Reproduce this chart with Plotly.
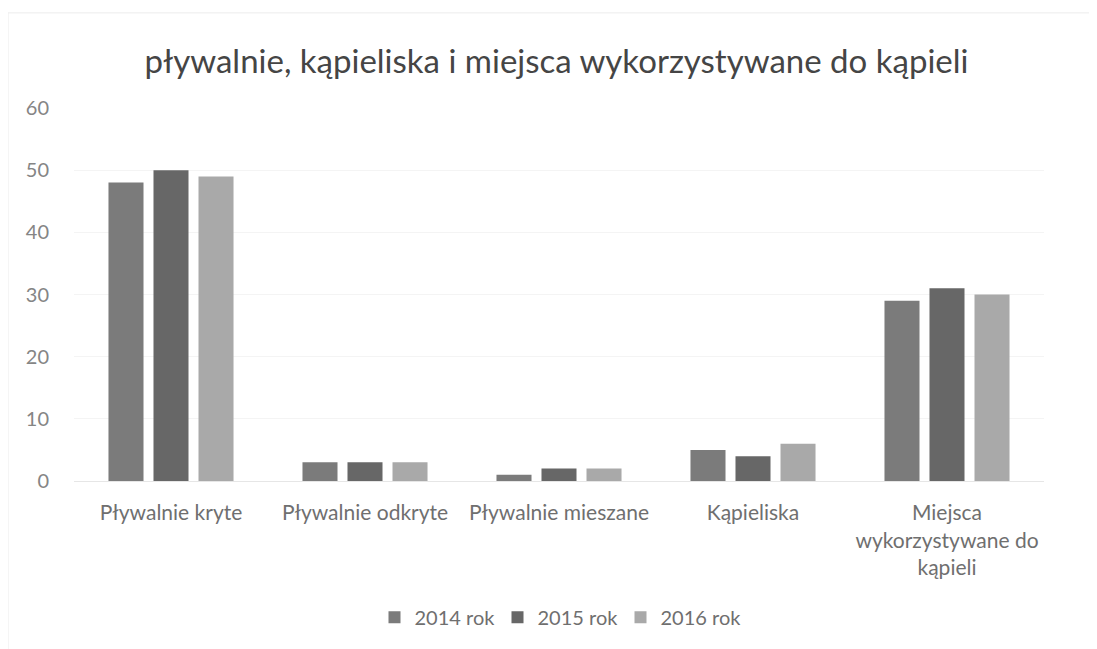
import plotly.graph_objects as go

categories = ["Pływalnie kryte", "Pływalnie odkryte", "Pływalnie mieszane", "Kąpieliska",
              "Miejsca<br>wykorzystywane do<br>kąpieli"]
series_names = ["2014 rok", "2015 rok", "2016 rok"]
values_2014 = [48, 3, 1, 5, 29]
values_2015 = [50, 3, 2, 4, 31]
values_2016 = [49, 3, 2, 6, 30]
colors = ["#7b7b7b", "#676767", "#a9a9a9"]
y_ticks = [0, 10, 20, 30, 40, 50, 60]

FONT = "Lato, 'Open Sans', sans-serif"

fig = go.Figure()
for name, vals, col in zip(series_names, [values_2014, values_2015, values_2016], colors):
    fig.add_trace(go.Bar(name=name, x=categories, y=vals, marker_color=col,
                         marker_line_width=0))

fig.update_layout(
    width=1097, height=649,
    paper_bgcolor="white", plot_bgcolor="white",
    font=dict(family=FONT, color="#7f7f7f", size=20),
    title=dict(text="pływalnie, kąpieliska i miejsca wykorzystywane do kąpieli",
               x=0.5, xanchor="center", y=0.917, yanchor="middle",
               font=dict(size=33, color="#454545", family=FONT)),
    margin=dict(l=66, r=61, t=100, b=176),
    barmode="group", bargap=0.304, bargroupgap=0.222,
    showlegend=True,
    legend=dict(orientation="h", x=0.5, xanchor="center", y=-0.365, yanchor="middle",
                font=dict(size=20, color="#6f6f6f"), itemwidth=30,
                entrywidth=78, entrywidthmode="pixels",
                traceorder="normal"),
    xaxis=dict(showgrid=False, showline=True, linecolor="#e6e6e6", ticks="",
               tickfont=dict(size=21, color="#6f6f6f"), ticklabelstandoff=13),
    yaxis=dict(range=[0, 60], tickvals=y_ticks, showgrid=True, gridcolor="#f4f4f4",
               zeroline=False, showline=False, ticks="", ticklabelstandoff=24,
               tickfont=dict(size=20, color="#858585")),
    shapes=[dict(type="rect", xref="paper", yref="paper", x0=-0.068, x1=1.047, y0=-0.7, y1=1.255,
                 line=dict(color="#ececec", width=1))],
)

fig.write_html("out.html")
